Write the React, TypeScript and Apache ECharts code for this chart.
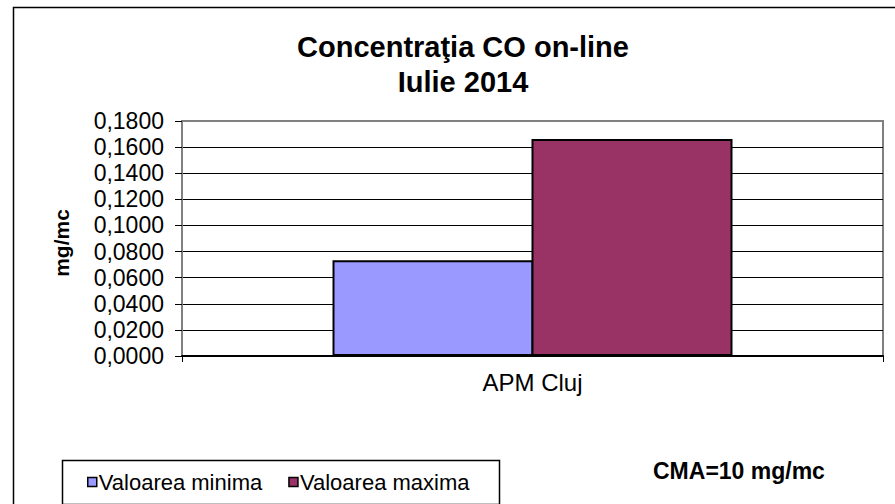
import React, { useEffect, useRef } from "react";
import * as echarts from "echarts";

const categories = ["APM Cluj"];
const seriesNames = ["Valoarea minima", "Valoarea maxima"];
const minValues = [0.0733];
const maxValues = [0.1663];
const seriesColors = ["#9999FF", "#993366"];
const titleLines = ["Concentraţia CO on-line", "Iulie 2014"];
const yAxisName = "mg/mc";
const noteText = "CMA=10 mg/mc";

export default function App() {
  const ref = useRef<HTMLDivElement>(null);
  useEffect(() => {
    if (!ref.current) return;
    const chart = echarts.init(ref.current, null, { renderer: "svg" });
    const font = "Arial, 'Liberation Sans', sans-serif";
    chart.setOption({
      animation: false,
      backgroundColor: "#ffffff",
      textStyle: { fontFamily: font },
      title: {
        text: titleLines.join("\n"),
        left: 458,
        top: 24,
        textAlign: "center",
        textStyle: {
          fontFamily: font,
          fontSize: 29,
          fontWeight: "bold",
          color: "#000",
          lineHeight: 35,
        },
      },
      grid: {
        left: 182,
        right: 12,
        top: 121,
        bottom: 148,
        show: true,
        borderColor: "#808080",
        borderWidth: 2,
        backgroundColor: "transparent",
      },
      legend: {
        left: 82,
        top: 466,
        data: seriesNames,
        icon: "rect",
        itemWidth: 9,
        itemHeight: 9,
        itemGap: 26,
        itemStyle: { borderColor: "#000", borderWidth: 1.5 },
        textStyle: {
          fontFamily: font,
          fontSize: 22,
          color: "#000",
          lineHeight: 22,
          padding: [0, 0, 0, -3],
        },
      },
      xAxis: {
        type: "category",
        data: categories,
        boundaryGap: true,
        axisLine: { show: true, lineStyle: { color: "#000", width: 2 } },
        axisTick: { show: true, length: 6, lineStyle: { color: "#000", width: 1 } },
        axisLabel: {
          fontFamily: font,
          fontSize: 24,
          color: "#000",
          margin: 14,
        },
        splitLine: { show: false },
      },
      yAxis: {
        type: "value",
        min: 0,
        max: 0.18,
        interval: 0.02,
        axisLine: { show: true, lineStyle: { color: "#808080", width: 2 } },
        axisTick: { show: true, length: 7, lineStyle: { color: "#000", width: 1 } },
        axisLabel: {
          fontFamily: font,
          fontSize: 23,
          color: "#000",
          margin: 18,
          formatter: (v: number) => v.toFixed(4).replace(".", ","),
        },
        splitLine: {
          show: true,
          showMaxLine: false,
          lineStyle: { color: "#000", width: 1 },
        },
      },
      series: [
        {
          name: seriesNames[0],
          type: "bar",
          data: minValues,
          barWidth: 201,
          barGap: "-1%",
          itemStyle: { color: seriesColors[0], borderColor: "#000", borderWidth: 2 },
        },
        {
          name: seriesNames[1],
          type: "bar",
          data: maxValues,
          barWidth: 201,
          barGap: "-1%",
          itemStyle: { color: seriesColors[1], borderColor: "#000", borderWidth: 2 },
        },
      ],
      graphic: [
        {
          type: "rect",
          left: 11,
          top: 5,
          shape: { x: 0, y: 0, width: 900, height: 520 },
          style: { fill: "none", stroke: "#000", lineWidth: 1.5 },
          silent: true,
          z: -1,
        },
        {
          type: "rect",
          left: 60,
          top: 458,
          shape: { x: 0, y: 0, width: 437, height: 44 },
          style: { fill: "none", stroke: "#000", lineWidth: 1.5 },
          silent: true,
        },
        {
          type: "text",
          x: 61,
          y: 243,
          rotation: Math.PI / 2,
          style: {
            text: yAxisName,
            font: `bold 21px ${font}`,
            fill: "#000",
            align: "center",
            verticalAlign: "middle",
          },
        },
        {
          type: "text",
          x: 653,
          y: 471,
          style: {
            text: noteText,
            font: `bold 23px ${font}`,
            fill: "#000",
            align: "left",
            verticalAlign: "middle",
          },
        },
      ],
    });
    return () => chart.dispose();
  }, []);
  return (
    <div
      ref={ref}
      style={{ position: "fixed", left: 0, top: 0, width: 895, height: 504 }}
    />
  );
}
